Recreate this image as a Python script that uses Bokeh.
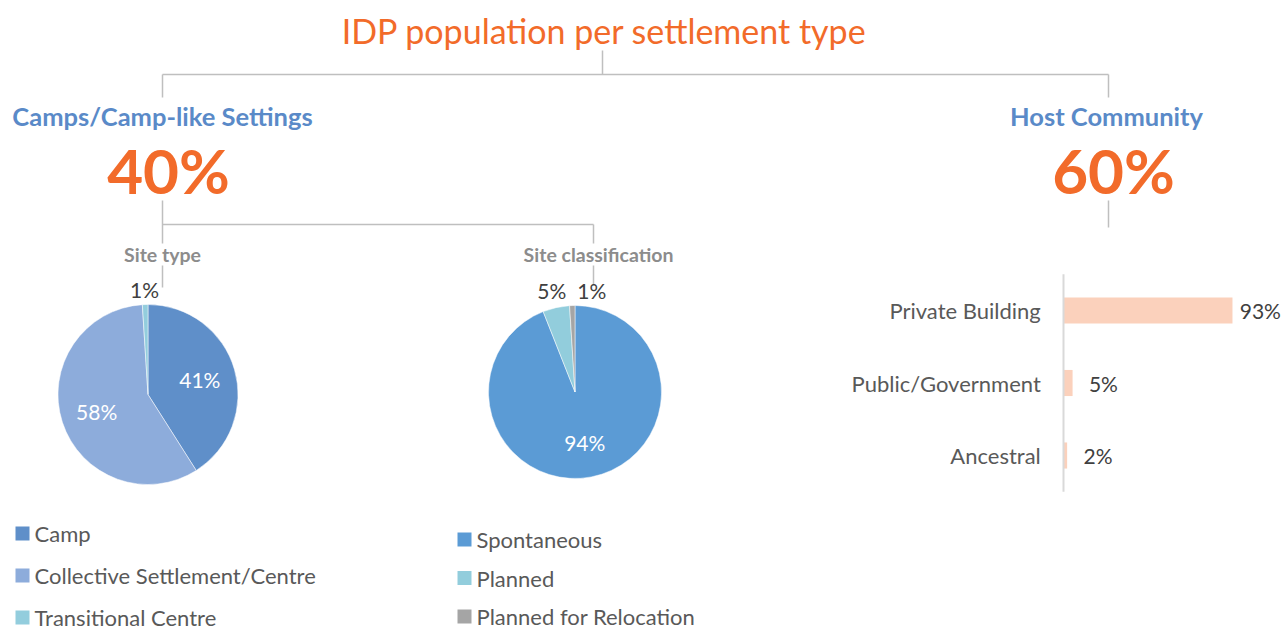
import math
from bokeh.plotting import figure
from bokeh.models import Range1d
from bokeh.embed import file_html
from bokeh.resources import INLINE
from bokeh.core.properties import value

# ---------------- data ----------------
title_text = "IDP population per settlement type"
group_names = ["Camps/Camp-like Settings", "Host Community"]
group_shares = [40, 60]

site_type_title = "Site type"
site_type_labels = ["Camp", "Collective Settlement/Centre", "Transitional Centre"]
site_type_values = [41, 58, 1]

site_class_title = "Site classification"
site_class_labels = ["Spontaneous", "Planned", "Planned for Relocation"]
site_class_values = [94, 5, 1]

host_labels = ["Private Building", "Public/Government", "Ancestral"]
host_values = [93, 5, 2]

# ---------------- styles ----------------
site_type_colors = ["#5F8FC9", "#8DACDB", "#93CDDD"]
site_class_colors = ["#5B9BD5", "#92CDDC", "#A5A5A5"]
bar_color = "#FBD1BC"
orange = "#F26B2A"
blue = "#5A8AC8"
line_gray = "#BFBFBF"
text_gray = "#595959"
dark_text = "#404040"
FONT = "Lato"

W, H = 1282, 630


def X(xr):
    return xr


def Y(yr):
    return H - yr


p = figure(width=W, height=H, output_backend="svg", toolbar_location=None,
           x_range=Range1d(0, W), y_range=Range1d(0, H), min_border=0)
p.axis.visible = False
p.grid.visible = False
p.outline_line_color = None
p.background_fill_color = "white"
p.border_fill_color = "white"

# ---------------- tree connector lines ----------------
segs = [
    (602, 50, 602, 74),
    (162, 74, 1108, 74),
    (162, 74, 162, 97),
    (1108, 74, 1108, 97),
    (162, 200, 162, 243),
    (162, 224, 593, 224),
    (593, 224, 593, 243),
    (162, 265, 162, 287),
    (593, 265, 593, 285),
    (1108, 200, 1108, 227),
]
p.segment(x0=[X(s[0]) for s in segs], y0=[Y(s[1]) for s in segs],
          x1=[X(s[2]) for s in segs], y1=[Y(s[3]) for s in segs],
          line_color=line_gray, line_width=1.5)

# ---------------- titles ----------------
p.text(x=[X(604)], y=[Y(30)], text=[title_text], text_font=value(FONT),
       text_font_size="34px", text_color=orange, text_align="center",
       text_baseline="middle")

group_x = [162, 1106]
p.text(x=[X(v) for v in group_x], y=[Y(115)] * 2, text=group_names,
       text_font=value(FONT), text_font_size="25.5px", text_font_style="bold",
       text_color=blue, text_align="center", text_baseline="middle")
p.text(x=[X(168), X(1113)], y=[Y(169)] * 2,
       text=[f"{v}%" for v in group_shares], text_font=value(FONT),
       text_font_size="62px", text_font_style="bold", text_color=orange,
       text_align="center", text_baseline="middle")

p.text(x=[X(162), X(598)], y=[Y(254)] * 2, text=[site_type_title, site_class_title],
       text_font=value(FONT), text_font_size="19.5px", text_font_style="bold",
       text_color="#8C8C8C", text_align="center", text_baseline="middle")


# ---------------- pies ----------------
def pie(cx, cy, r, values, colors):
    total = float(sum(values))
    starts, ends, mids = [], [], []
    cum = 0.0
    for v in values:
        a0 = cum / total * 2 * math.pi
        cum += v
        a1 = cum / total * 2 * math.pi
        starts.append(math.pi / 2 - a0)
        ends.append(math.pi / 2 - a1)
        mids.append((a0 + a1) / 2)
    p.wedge(x=[X(cx)] * len(values), y=[Y(cy)] * len(values), radius=r,
            radius_units="screen", start_angle=starts, end_angle=ends,
            direction="clock", fill_color=colors, line_color="white",
            line_width=0.5)
    in_x, in_y, in_t = [], [], []
    out = []
    for v, m in zip(values, mids):
        lab = f"{v}%"
        if v / total >= 0.10:
            in_x.append(X(cx + 0.6 * r * math.sin(m)))
            in_y.append(Y(cy - 0.6 * r * math.cos(m)))
            in_t.append(lab)
        else:
            out.append([cx + (r + 20) * math.sin(m), lab])
    p.text(x=in_x, y=in_y, text=in_t, text_font=value(FONT),
           text_font_size="21px", text_color="white", text_align="center",
           text_baseline="middle")
    out.sort(key=lambda o: o[0])
    for i in range(1, len(out)):
        if out[i][0] - out[i - 1][0] < 40:
            out[i][0] = out[i - 1][0] + 40
    p.text(x=[X(o[0]) for o in out], y=[Y(cy - r - 15)] * len(out),
           text=[o[1] for o in out], text_font=value(FONT), text_font_size="21px",
           text_color=dark_text, text_align="center", text_baseline="middle")


pie(147.5, 394, 90, site_type_values, site_type_colors)
pie(574.5, 391.5, 86.5, site_class_values, site_class_colors)


# ---------------- legends ----------------
def legend(sq_x, y0, dy, labels, colors):
    ys = [Y(y0 + i * dy) for i in range(len(labels))]
    p.rect(x=[X(sq_x)] * len(labels), y=ys, width=14, height=14,
           width_units="screen", height_units="screen",
           fill_color=colors, line_color=None)
    p.text(x=[X(sq_x + 12)] * len(labels), y=ys, text=labels,
           text_font=value(FONT), text_font_size="22px", text_color=text_gray,
           text_align="left", text_baseline="middle")


legend(22, 533, 42, site_type_labels, site_type_colors)
legend(464, 539, 38.5, site_class_labels, site_class_colors)

# ---------------- host community bars ----------------
# value scale: 0 -> ref x 1063, 1 unit = 1.817 px
px_per = 1.817
x0f = X(1063)
p.extra_x_ranges = {"pct": Range1d(start=-x0f / px_per, end=(W - x0f) / px_per)}
# category index scale: index 0 -> ref y 310, step 72.5 px
y0f = Y(310)
step = 72.5
p.extra_y_ranges = {"cat": Range1d(start=y0f / step, end=-(H - y0f) / step)}

idx = list(range(len(host_labels)))
p.hbar(y=idx, left=0, right=host_values, height=0.36, fill_color=bar_color,
       line_color=None, x_range_name="pct", y_range_name="cat")
p.segment(x0=[0], x1=[0], y0=[-0.5], y1=[len(host_labels) - 0.5],
          line_color="#D9D9D9", line_width=2, x_range_name="pct",
          y_range_name="cat")
p.text(x=[-12.5] * len(idx), y=idx, text=host_labels, text_font=value(FONT),
       text_font_size="22px", text_color=text_gray, text_align="right",
       text_baseline="middle", x_range_name="pct", y_range_name="cat")
lab_x = [v + (4 if v > 50 else 9) for v in host_values]
p.text(x=lab_x, y=idx, text=[f"{v}%" for v in host_values],
       text_font=value(FONT), text_font_size="21px", text_color=dark_text,
       text_align="left", text_baseline="middle", x_range_name="pct",
       y_range_name="cat")

open("out.html", "w").write(file_html(p, INLINE))
